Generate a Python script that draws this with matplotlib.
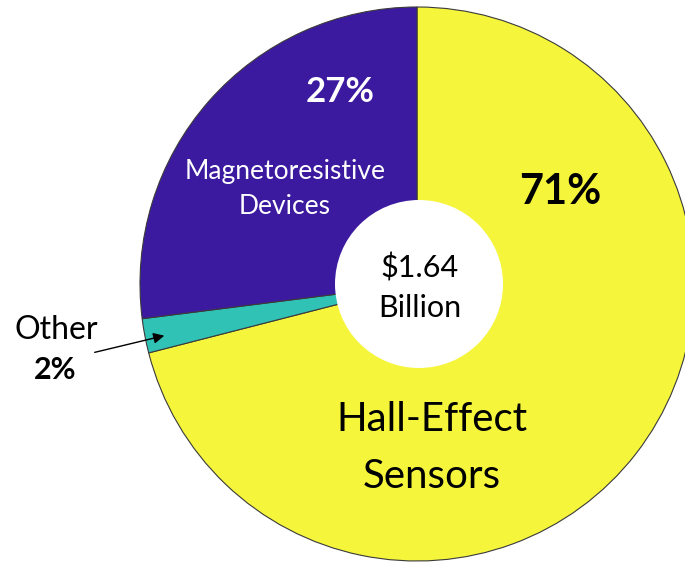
import matplotlib
matplotlib.use('Agg')
import matplotlib.pyplot as plt
from matplotlib.patches import Circle

plt.rcParams['font.family'] = ['Lato', 'DejaVu Sans']

# market share by sensor type
segments = ['Hall-Effect\nSensors', 'Other', 'Magnetoresistive\nDevices']
shares = [71, 2, 27]
colors = ['#F5F53B', '#31C2B6', '#3C1A9F']
total_label = '$1.64\nBillion'

W, H = 685, 563
fig = plt.figure(figsize=(W / 100, H / 100), dpi=100)
ax = fig.add_axes([0, 0, 1, 1])

cx, cy, r = 417, H - 284, 277
ax.pie(shares, colors=colors, startangle=90, counterclock=False,
       radius=r, center=(cx, cy),
       wedgeprops=dict(edgecolor='#3a3a3a', linewidth=0.8))
ax.add_patch(Circle((cx + 2, cy), 84, facecolor='white', edgecolor='none', zorder=5))

ax.set_xlim(0, W)
ax.set_ylim(0, H)
ax.set_aspect('equal')
ax.axis('off')

def y(py):
    return H - py

# Hall-Effect
ax.text(560, y(192), f'{shares[0]}%', ha='center', va='center',
        fontsize=30, fontweight='bold', color='black', zorder=6)
ax.text(432, y(448), segments[0], ha='center', va='center',
        fontsize=29, color='black', linespacing=1.65, zorder=6)

# Magnetoresistive
ax.text(340, y(92), f'{shares[2]}%', ha='center', va='center',
        fontsize=25, fontweight='bold', color='white', zorder=6)
ax.text(285, y(189), segments[2], ha='center', va='center',
        fontsize=19, color='white', linespacing=1.55, zorder=6)

# Other, annotated from outside
ax.text(56, y(330), segments[1], ha='center', va='center',
        fontsize=23, color='black', zorder=6)
ax.text(55, y(370), f'{shares[1]}%', ha='center', va='center',
        fontsize=22, fontweight='bold', color='black', zorder=6)
ax.annotate('', xy=(167, y(335)), xytext=(92, y(353)),
            arrowprops=dict(arrowstyle='-|>', color='black', lw=1.0,
                            mutation_scale=16), zorder=6)

# total in the middle
ax.text(cx + 3, y(288), total_label, ha='center', va='center',
        fontsize=22, color='black', linespacing=1.5, zorder=6)

fig.savefig('out.png', dpi=100, facecolor='white')
